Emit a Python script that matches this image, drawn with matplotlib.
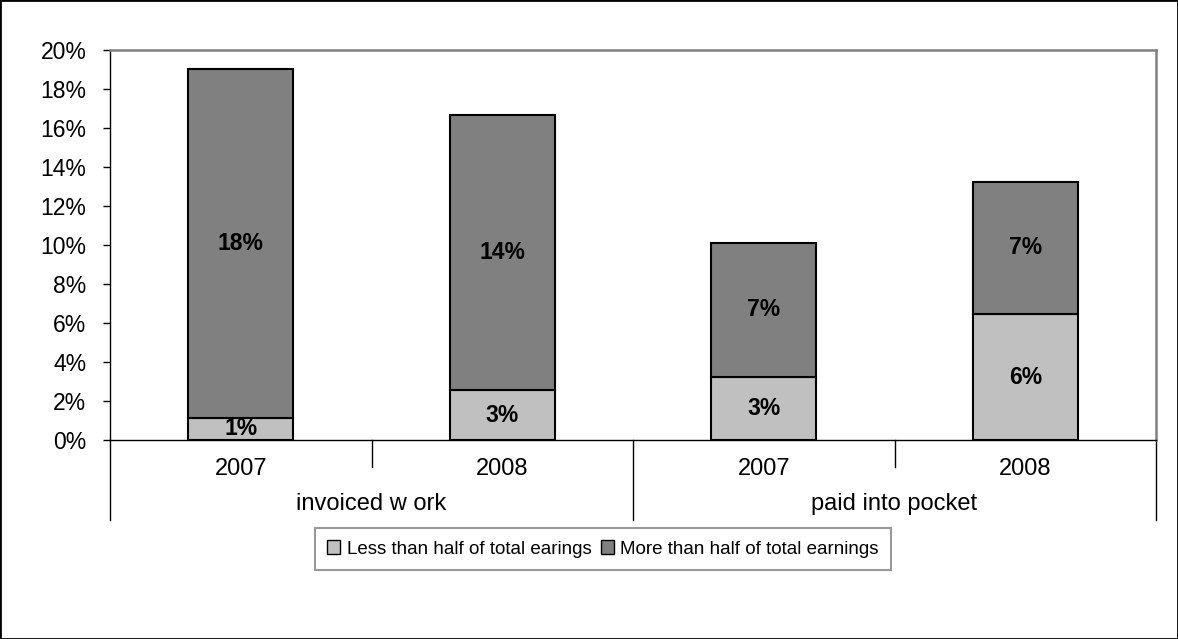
import matplotlib
matplotlib.use("Agg")
import matplotlib.pyplot as plt
from matplotlib.patches import Patch, Rectangle
from matplotlib.ticker import FuncFormatter

plt.rcParams['font.family'] = ['Liberation Sans', 'DejaVu Sans']

years = ['2007', '2008', '2007', '2008']
groups = ['invoiced w ork', 'paid into pocket']
less_half = [1.15, 2.55, 3.25, 6.45]
more_half = [17.9, 14.1, 6.85, 6.8]
less_labels = ['1%', '3%', '3%', '6%']
more_labels = ['18%', '14%', '7%', '7%']
series_names = ['Less than half of total earings', 'More than half of total earnings']
light = '#c0c0c0'
dark = '#808080'

W, H = 1178, 639
fig = plt.figure(figsize=(W / 100, H / 100), dpi=100)
ax = fig.add_axes([110 / W, 1 - 440 / H, (1156 - 110) / W, 390 / H])

x = range(len(years))
ax.bar(x, less_half, width=0.4, color=light, edgecolor='black', linewidth=1.5)
ax.bar(x, more_half, bottom=less_half, width=0.4, color=dark, edgecolor='black', linewidth=1.5)

# value labels inside the segments
for i in x:
    ax.text(i, less_half[i] / 2, less_labels[i], ha='center', va='center',
            fontsize=16.5, fontweight='bold')
    ax.text(i, less_half[i] + more_half[i] / 2, more_labels[i], ha='center', va='center',
            fontsize=16.5, fontweight='bold')

ax.set_xlim(-0.5, 3.5)
ax.set_ylim(0, 20)
ax.set_yticks(range(0, 21, 2))
ax.yaxis.set_major_formatter(FuncFormatter(lambda v, p: '%d%%' % v))
ax.tick_params(axis='y', length=5, width=1, labelsize=16.5, pad=12, direction='out')
ax.set_xticks(list(x))
ax.set_xticklabels(years)
ax.tick_params(axis='x', length=0, labelsize=17, pad=13)

for side in ['top', 'right']:
    ax.spines[side].set_color('#808080')
    ax.spines[side].set_linewidth(1.8)
for side in ['left', 'bottom']:
    ax.spines[side].set_color('black')
    ax.spines[side].set_linewidth(1)

# category dividers below the axis
trans = ax.get_xaxis_transform()
for xd in [0.5, 2.5]:
    ax.plot([xd, xd], [0, -0.068], color='black', lw=1, transform=trans, clip_on=False)
for xd in [-0.5, 1.5, 3.5]:
    ax.plot([xd, xd], [0, -0.205], color='black', lw=1, transform=trans, clip_on=False)
for gx, g in zip([0.5, 2.5], groups):
    ax.text(gx, -0.163, g, ha='center', va='center', fontsize=17, transform=trans)

handles = [Patch(facecolor=light, edgecolor='black'), Patch(facecolor=dark, edgecolor='black')]
leg = fig.legend(handles, series_names, loc='center', bbox_to_anchor=(603 / W, 1 - 549 / H),
                 ncol=2, fontsize=13.5, frameon=True, fancybox=False, edgecolor='#808080',
                 handlelength=0.7, handleheight=0.7, handletextpad=0.35, columnspacing=0.5,
                 borderpad=0.65)
leg.get_frame().set_linewidth(1.5)

fig.patches.append(Rectangle((0, 0), 1, 1, transform=fig.transFigure, fill=False,
                             edgecolor='black', linewidth=2))

fig.savefig('out.png', dpi=100)
